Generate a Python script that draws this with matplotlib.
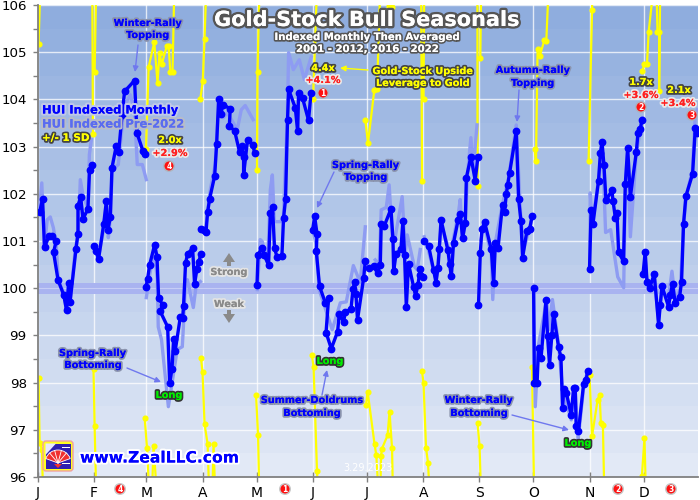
import matplotlib
matplotlib.use("Agg")
import matplotlib.pyplot as plt
import matplotlib.patheffects as pe
from matplotlib.patches import Circle, FancyBboxPatch, Polygon, Rectangle, Wedge
import numpy as np

n = float("nan")

# month starts, leap year day numbers
month_days = [0, 31, 60, 91, 121, 152, 182, 213, 244, 274, 305, 335]
month_labels = ["J", "F", "M", "A", "M", "J", "J", "A", "S", "O", "N", "D"]
y_ticks = [96, 97, 98, 99, 100, 101, 102, 103, 104, 105, 106]

# HUI indexed monthly, nan breaks the line between months
hui_x = [0.9, 2.5, 3.6, 6.2, 7.9, 10.1, 8.6, 11.1, 14.2, 15.8, 16.9, 17.7, 21.0, 22.1, 22.1, 23.6, 24.9, 27.6, 28.5, 29.9, n,
         30.7, 32.2, 33.5, 36.3, 37.8, 38.7, 40.0, 40.9, 43.3, 44.6, 46.5, 47.9, 53.4, 54.7, 58.1, 59.3, n,
         59.7, 60.6, 61.7, 64.5, 65.8, 66.7, 68.9, 67.6, 71.7, 72.8, 74.1, 75.0, 75.9, 78.7, 80.0, 80.5, 81.6, 82.7, 85.5, 86.6, 87.9, 88.8, 90.1, n,
         90.3, 91.6, 92.9, 93.8, 94.9, 97.7, 98.8, 99.9, 101.1, 102.3, 106.3, 105.8, 108.7, 111.5, 112.8, 113.7, 113.7, 115.9, 118.9, 119.8, n,
         121.1, 121.7, 123.9, 125.1, 127.5, 128.5, 129.7, 130.8, 132.2, 134.9, 135.8, 136.9, 138.0, 138.6, 142.3, 143.6, 144.1, 146.3, 149.6, 151.0, n,
         151.9, 153.0, 154.3, 153.9, 155.7, 158.9, 160.7, 159.3, 162.2, 165.7, 166.6, 169.0, 169.9, 173.1, 174.2, 175.1, 175.8, 176.7, 180.1, 181.0, n,
         182.8, 185.6, 187.8, 189.3, 189.8, 191.5, 195.2, 196.3, 196.7, 198.0, 200.7, 201.8, 202.7, 203.7, 204.9, 207.7, 208.8, 210.1, 211.4, 211.0, 212.9, n,
         213.6, 216.0, 218.8, 220.1, 221.2, 221.9, 222.9, 226.7, 227.6, 228.6, 229.8, 232.3, 233.5, 234.8, 236.3, 236.9, 239.4, 241.8, 243.3, n,
         243.6, 244.6, 245.5, 247.0, 250.7, 252.0, 252.9, 254.4, 256.9, 258.0, 259.0, 259.7, 260.8, 264.5, 265.8, 267.1, 268.0, 270.4, 271.9, 273.2, n,
         274.1, 274.5, 276.0, 276.8, 278.2, 280.9, 281.8, 282.9, 284.2, 285.1, 287.9, 289.2, 290.1, 290.7, 292.2, 294.9, 296.2, 297.1, 297.6, 298.9, 301.7, 303.2, 303.9, n,
         305.0, 305.9, 306.9, 310.0, 311.0, 311.9, 313.0, 314.1, 317.4, 318.0, 319.3, 320.2, 321.1, 323.8, 324.8, 326.1, 327.6, 330.9, 331.8, 333.1, 334.0, n,
         334.6, 335.8, 336.8, 338.2, 340.8, 343.2, 344.1, 345.1, 348.7, 349.7, 350.9, 352.4, 354.8, 355.9, 357.0, 358.3, 362.0, 363.5, 364.4]
hui_y = [101.61, 101.89, 100.87, 101.11, 101.11, 101.01, 100.76, 100.17, 99.86, 99.53, 100.10, 99.70, 100.83, 101.15, 101.75, 101.93, 101.47, 101.68, 102.51, 102.62, n,
         100.90, 100.78, 100.62, 101.35, 101.84, 101.24, 101.51, 102.55, 103.02, 102.88, 103.68, 104.17, 104.40, 103.29, 102.90, 102.85, n,
         100.03, 100.19, 100.49, 100.92, 100.67, 99.79, 99.65, 99.51, 99.18, 97.99, 98.29, 98.92, 98.68, 99.39, 99.37, 99.63, 100.53, 100.72, 100.85, 100.09, 100.41, 100.55, 100.72, n,
         101.25, 101.24, 101.19, 101.61, 101.89, 102.38, 103.06, 104.01, 103.69, 103.89, 103.80, 103.43, 103.34, 102.88, 103.02, 102.79, 102.40, 103.15, 103.03, 102.86, n,
         100.06, 100.71, 100.85, 100.70, 100.49, 101.59, 101.72, 100.85, 100.66, 100.69, 101.49, 101.88, 103.57, 104.21, 103.82, 103.32, 104.14, 104.03, 103.56, 104.14, n,
         101.24, 101.52, 101.15, 100.78, 100.04, 99.69, 99.79, 99.06, 98.72, 99.08, 99.46, 99.28, 99.49, 99.56, 99.98, 100.13, 99.88, 99.33, 100.22, 100.57, n,
         100.43, 100.46, 100.32, 100.50, 101.35, 101.32, 101.68, 101.04, 100.36, 100.73, 100.82, 101.42, 100.71, 99.60, 100.52, 100.03, 99.84, 100.07, 100.41, 100.29, 100.24, n,
         100.99, 100.90, 100.38, 100.12, 100.43, 100.82, 101.45, 100.80, 100.52, 100.25, 100.96, 101.44, 101.58, 101.06, 101.38, 102.34, 102.79, 102.28, 102.79, n,
         99.64, 100.75, 101.25, 101.40, 100.82, 100.11, 100.96, 100.85, 101.77, 101.61, 102.00, 102.18, 102.44, 103.32, 101.88, 101.42, 100.65, 101.22, 101.25, 101.52, n,
         100.00, 97.99, 97.99, 98.73, 98.52, 99.74, 98.98, 98.38, 99.01, 99.46, 98.75, 98.54, 97.46, 97.86, 97.78, 97.32, 97.89, 97.89, 97.09, 96.97, 97.96, 98.06, 98.25, n,
         100.41, 101.66, 101.36, 102.28, 102.86, 103.10, 102.60, 101.86, 102.07, 101.85, 101.49, 101.59, 100.76, 100.57, 102.21, 102.97, 101.94, 102.89, 103.29, 103.37, 103.57, n,
         100.30, 100.77, 100.14, 100.00, 100.30, 99.23, 99.64, 100.04, 99.61, 99.86, 100.09, 99.69, 99.81, 100.14, 101.36, 101.95, 102.42, 103.39, 103.29]

# HUI indexed pre-2022
pre_x = [0.7, 2.1, 3.5, 5.1, 6.8, 8.5, 10.1, 11.2, 14.5, 15.7, 17.3, 17.9, 20.6, 22.3, 23.4, 25.0, 27.8, 28.4, 29.5, n,
         31.1, 33.3, 36.1, 37.8, 38.9, 40.0, 41.1, 44.4, 46.6, 48.3, 51.0, 53.3, 54.9, 57.7, 59.9, n,
         59.9, 61.6, 64.3, 66.0, 66.5, 68.3, 72.1, 77.0, 79.8, 80.4, 81.5, 82.6, 85.9, 87.5, 89.8, n,
         92.5, 93.6, 95.3, 98.0, 98.6, 100.3, 102.5, 104.7, 110.2, 112.4, 114.6, 119.0, n,
         121.3, 122.9, 124.0, 126.2, 127.3, 128.5, 129.6, 130.7, 134.0, 135.7, 136.7, 137.9, 138.6, 141.2, 144.5, 147.3, 151.1, n,
         152.2, 153.9, 155.5, 162.7, 167.2, 170.5, 174.4, 178.2, 181.0, n,
         186.5, 188.7, 189.8, 192.6, 194.2, 195.9, 197.6, 201.4, 203.1, 204.2, 208.1, 209.7, 211.4, n,
         213.6, 215.8, 218.6, 220.2, 221.3, 223.0, 226.9, 228.5, 229.6, 232.4, 233.5, 234.7, 236.3, 237.5, 239.4, 240.7, 242.8, n,
         245.0, 246.8, 250.7, 251.5, 252.9, 256.8, 260.1, 264.5, 266.9, 268.6, 273.0, n,
         274.0, 275.0, 276.8, 281.3, 282.4, 284.5, 287.9, 290.1, 294.9, 297.1, 298.7, 301.9, 303.9, n,
         305.1, 305.4, 306.5, 309.9, 312.1, 313.9, 316.7, 320.6, 323.9, 324.8, 326.0, 327.6, 330.9, 333.1, 334.2, n,
         335.7, 336.8, 338.5, 340.8, 343.1, 345.2, 348.5, 350.6, 352.4, 355.2, 357.0, 358.7, 361.9, 363.5, 364.6]
pre_y = [101.62, 102.23, 100.88, 101.45, 101.51, 101.28, 100.92, 100.18, 99.86, 99.52, 100.07, 99.76, 100.82, 101.20, 102.30, 101.94, 101.68, 102.83, 103.15, n,
         100.90, 100.62, 101.20, 101.83, 101.07, 101.49, 102.51, 102.62, 103.46, 103.89, 104.10, 103.78, 102.62, 102.62, 102.30, n,
         99.80, 100.24, 100.82, 100.18, 99.18, 98.91, 97.49, 98.70, 98.76, 99.18, 100.12, 100.18, 99.59, 100.07, 100.14, n,
         101.20, 101.56, 102.09, 102.62, 103.08, 103.99, 103.61, 103.72, 103.36, 103.78, 103.87, 103.57, n,
         99.97, 101.03, 100.99, 100.65, 100.82, 102.09, 102.40, 101.41, 101.41, 101.49, 102.51, 103.63, 104.99, 104.63, 104.84, 104.42, 104.90, n,
         101.20, 100.92, 99.97, 99.12, 99.69, 99.71, 100.48, 100.12, 101.30, n,
         100.60, 100.50, 101.66, 101.71, 102.19, 101.09, 101.09, 101.94, 100.75, 101.13, 100.46, 100.39, 100.82, n,
         101.09, 100.82, 100.39, 100.18, 100.60, 101.35, 100.86, 100.39, 101.03, 101.56, 101.88, 101.03, 101.35, 102.40, 103.19, 102.51, 103.46, n,
         101.03, 101.35, 100.71, 99.76, 100.96, 101.77, 102.30, 103.46, 101.56, 100.82, 101.45, n,
         99.99, 97.49, 98.80, 99.76, 99.12, 99.76, 98.80, 97.85, 97.21, 97.85, 96.79, 97.96, 98.23, n,
         100.39, 102.02, 101.35, 102.28, 103.04, 101.18, 101.24, 100.24, 100.01, 102.09, 102.93, 101.09, 102.89, 103.32, 103.61, n,
         100.71, 100.07, 99.97, 100.29, 99.33, 99.97, 99.76, 100.36, 99.76, 99.97, 101.35, 101.98, 102.51, 103.68, 103.78]

# +1 SD band, runs off the top of the chart most of the time
upper_x = [0.3, 1.3, n, 30.0, 30.4, n, 31.3, 32.2, n,
           59.7, 61.2, 64.3, 66.1, 67.2, 68.4, 71.3, 72.2, 73.2, 74.4, 75.4, n,
           89.8, 91.1, 92.1, 93.1, n, 121.1, 121.4, 122.5, n, 152.1, 153.3, 154.3, n,
           181.0, 182.5, 186.0, 187.5, 189.3, n, 192.0, 193.9, 195.8, 197.0, n, 211.9, 212.4, n,
           213.2, 213.6, n, 243.0, 243.1, n, 244.6, 245.1, n,
           274.6, 275.4, 276.3, 277.4, 280.0, 281.1, 282.4, n, 304.5, 306.4, 306.6, n,
           334.3, 335.4, 336.8, 337.7, 340.5, 342.0, 342.6, 343.5, 343.5, 344.1]
upper_y = [105.17, 106.4, n, 106.4, 103.27, n, 104.58, 106.4, n,
           102.94, 104.69, 105.21, 104.35, 104.98, 104.74, 105.14, 105.14, 104.58, 104.58, 106.4, n,
           104.01, 104.38, 105.28, 106.4, n, 102.51, 104.59, 106.4, n, 104.00, 105.28, 106.4, n,
           103.57, 103.08, 104.20, 104.22, 106.4, n, 106.4, 105.97, 105.96, 106.4, n, 106.4, 102.28, n,
           104.01, 106.4, n, 106.4, 102.17, n, 104.88, 106.4, n,
           102.95, 102.69, 105.07, 104.91, 105.25, 105.23, 106.4, n, 102.69, 105.90, 106.4, n,
           104.61, 104.76, 104.76, 105.43, 106.4, 106.4, 105.42, 105.42, 104.17, 106.4]

# -1 SD band, runs off the bottom
lower_x = [0.3, 0.9, 2.2, 2.8, n, 30.7, 31.3, 32.2, n,
           59.0, 60.3, 61.6, 63.0, 63.9, 65.8, n,
           90.1, 91.0, 92.1, 93.8, 94.7, 96.4, 97.1, 98.0, n, 120.6, 121.7, 122.4, n,
           151.5, 152.4, 154.3, 155.0, n,
           181.4, 182.3, 186.1, 187.1, 188.4, 189.3, 189.7, 190.2, 193.3, 194.4, 195.8, 196.3, n,
           212.4, 213.2, 214.6, 215.7, 216.6, n, 243.1, 244.2, 245.0, n, 273.2, 274.4, n,
           305.0, 306.4, 309.5, 310.6, 311.3, 312.4, 313.2, n, 334.0, 335.4, 336.2]
lower_y = [98.10, 96.73, 96.58, 95.6, n, 98.29, 97.09, 95.6, n,
           97.25, 96.61, 95.6, 95.6, 96.66, 95.6, n,
           98.53, 98.22, 97.12, 96.70, 95.6, 95.6, 96.70, 95.6, n, 97.73, 96.88, 95.6, n,
           98.58, 98.33, 96.12, 95.6, n,
           97.52, 97.81, 96.70, 96.46, 95.6, 95.6, 96.44, 96.60, 96.88, 97.38, 96.61, 95.6, n,
           98.24, 97.99, 96.61, 96.30, 95.6, n, 97.14, 96.66, 95.6, n, 98.33, 95.6, n,
           98.17, 96.86, 97.64, 97.73, 97.14, 97.11, 95.6, n, 96.03, 96.83, 95.6]

W, H = 700, 500
fig = plt.figure(figsize=(7, 5), dpi=100)
ax = fig.add_axes([38 / W, 1 - 477 / H, 660 / W, 472 / H])

# background gradient
top_col = np.array([0x8f, 0xad, 0xde]) / 255
bot_col = np.array([0xe2, 0xe9, 0xf6]) / 255
steps = np.linspace(0, 1, 20)[:, None, None]
grad = top_col[None, None, :] * (1 - steps) + bot_col[None, None, :] * steps
ax.imshow(grad, extent=[0, 365, 96, 106], aspect="auto", zorder=0, interpolation="nearest")

ax.set_xlim(0, 365)
ax.set_ylim(96, 106)
ax.set_xticks(month_days)
ax.set_xticklabels(month_labels)
ax.set_yticks(y_ticks)
ax.set_yticks(np.arange(96.5, 106, 1), minor=True)
ax.tick_params(axis="y", which="both", direction="out", length=3.6, width=1, color="#808080", labelsize=9.6, pad=4.5)
ax.tick_params(axis="x", direction="inout", length=7, width=1, color="#808080", labelsize=10, pad=3)
for s in ["top", "right"]:
    ax.spines[s].set_visible(False)
for s in ["left", "bottom"]:
    ax.spines[s].set_color("#808080")
    ax.spines[s].set_linewidth(1.3)
ax.grid(color="white", linewidth=1, alpha=0.75, zorder=1)
ax.set_axisbelow(True)

# band around 100
ax.axhspan(99.88, 100.12, color="#a9b3f0", zorder=1.5, lw=0)
ax.axhline(100, color="white", lw=0.8, alpha=0.35, zorder=1.6)

ax.plot(upper_x, upper_y, color="#ffff00", lw=1.6, marker="o", ms=3.4, zorder=2)
ax.plot(lower_x, lower_y, color="#ffff00", lw=1.6, marker="o", ms=3.4, zorder=2)
ax.plot(pre_x, pre_y, color="#8e9cf2", lw=2.4, zorder=3, solid_joinstyle="round")
ax.plot(hui_x, hui_y, color="#0000ff", lw=2.4, marker="o", ms=4.6, zorder=4)


def label(px, py, txt, color="#0000ff", edge="#8a93ad", size=7, lw=2.6, ha="center"):
    effects = [pe.withStroke(linewidth=lw, foreground=edge), pe.Normal()]
    fig.text(px / W, 1 - py / H, txt, color=color, fontsize=size, fontweight="bold", ha=ha, va="center",
             path_effects=effects, zorder=10)


def arrow(x0, y0, x1, y1, color="#6f78ee"):
    ax.annotate("", xy=(x1, H - y1), xytext=(x0, H - y0), xycoords="figure pixels", textcoords="figure pixels",
                arrowprops=dict(arrowstyle="-|>", color=color, lw=1, mutation_scale=8, shrinkA=0, shrinkB=0), zorder=9)


def badge(px, py, num):
    fig.add_artist(Circle((px, H - py), 6, transform=None, facecolor="#b0b0b0", edgecolor="none", alpha=0.7, zorder=10))
    fig.add_artist(Circle((px, H - py), 4.5, transform=None, facecolor="#ff1010", edgecolor="none", zorder=11))
    fig.text(px / W, 1 - (py + 0.3) / H, num, color="white", fontsize=5.5, fontweight="bold", ha="center", va="center", zorder=12)


# titles
label(367, 20, "Gold-Stock Bull Seasonals", color="white", edge="#555555", size=15, lw=3.5)
label(367, 37, "Indexed Monthly Then Averaged", color="white", edge="#555555", size=7.3, lw=2.4)
label(367, 49, "2001 - 2012, 2016 - 2022", color="white", edge="#555555", size=7.3, lw=2.4)

# legend text
label(42, 110, "HUI Indexed Monthly", size=8.3, ha="left", edge="#c0c8e8", lw=3)
label(42, 124, "HUI Indexed Pre-2022", color="#5a6cf0", size=8.3, ha="left", edge="#b8bcc8", lw=3)
label(42, 138, "+/- 1 SD", color="#ffff00", edge="#444444", size=7.5, ha="left")

# notes
label(148, 23, "Winter-Rally")
label(148, 35, "Topping")
arrow(138, 45, 135, 72)
label(366, 165, "Spring-Rally")
label(366, 177, "Topping")
arrow(334, 172, 317, 208)
label(533, 70, "Autumn-Rally")
label(533, 83, "Topping")
arrow(519, 90, 517, 122)
label(93, 353, "Spring-Rally")
label(93, 365, "Bottoming")
arrow(127, 368, 161, 382)
label(312, 400, "Summer-Doldrums")
label(312, 413, "Bottoming")
arrow(322, 395, 327, 370)
label(479, 400, "Winter-Rally")
label(479, 413, "Bottoming")
arrow(512, 415, 569, 430)

for px, py in [(169, 395), (330, 361), (578, 443)]:
    label(px, py, "Long", color="#00ee00", edge="#333333", size=7)

label(423, 71, "Gold-Stock Upside", color="#ffff00", edge="#444444")
label(423, 83, "Leverage to Gold", color="#ffff00", edge="#444444")
arrow(368, 70, 340, 68, color="#ffff00")

for px, py, txt in [(170, 140, "2.0x"), (323, 68, "4.4x"), (641, 82, "1.7x"), (679, 90, "2.1x")]:
    label(px, py, txt, color="#ffff00", edge="#444444")
for px, py, txt in [(170, 153, "+2.9%"), (323, 80, "+4.1%"), (641, 95, "+3.6%"), (678, 103, "+3.4%")]:
    label(px, py, txt, color="#ff2020", edge="#e8e8e8")

for px, py, num in [(169, 166, "4"), (323, 93, "1"), (641, 107, "2"), (692, 115, "3"),
                    (120, 489, "4"), (285, 489, "1"), (618, 489, "2"), (671, 489, "3")]:
    badge(px, py, num)

# strong / weak arrows
label(229, 272, "Strong", color="#8a8a8a", edge="#e4e4e4")
label(229, 304, "Weak", color="#8a8a8a", edge="#e4e4e4")
fig.add_artist(Polygon([(229, H - 253), (223, H - 262), (235, H - 262)], transform=None, facecolor="#8a8a8a", edgecolor="none", zorder=9))
fig.add_artist(Rectangle((227, H - 266), 4, 5, transform=None, facecolor="#8a8a8a", edgecolor="none", zorder=9))
fig.add_artist(Polygon([(229, H - 323), (223, H - 314), (235, H - 314)], transform=None, facecolor="#8a8a8a", edgecolor="none", zorder=9))
fig.add_artist(Rectangle((227, H - 315), 4, 5, transform=None, facecolor="#8a8a8a", edgecolor="none", zorder=9))

# footer
label(80, 458, "www.ZealLLC.com", edge="white", size=11.2, lw=3, ha="left")
fig.text(368 / W, 1 - 468 / H, "3.29.2023", color="white", fontsize=7, ha="center", va="center", zorder=10)

# logo
logo = fig.add_axes([42 / W, 1 - 472 / H, 32 / W, 32 / H], zorder=12)
logo.set_xlim(0, 32)
logo.set_ylim(0, 32)
logo.axis("off")
logo.add_patch(FancyBboxPatch((1, 1), 30, 30, boxstyle="round,pad=0,rounding_size=3", facecolor="#ffff20", edgecolor="#f0a0a0", lw=1))
logo.add_patch(Rectangle((3.5, 3.5), 25, 25, facecolor="#3020b0", edgecolor="none"))
logo.add_patch(Polygon([(3.5, 28.5), (14, 28.5), (3.5, 17)], facecolor="#e8e8ff", edgecolor="none"))
for yy in [8, 13, 24]:
    logo.add_patch(Rectangle((20, yy), 8, 1.4, facecolor="white", edgecolor="none"))
logo.add_patch(Wedge((16, 9), 13, 20, 160, facecolor="#f03030", edgecolor="white", lw=0.6))
for ang in [50, 75, 105, 130]:
    logo.plot([16, 16 + 13 * np.cos(np.radians(ang))], [9, 9 + 13 * np.sin(np.radians(ang))], color="white", lw=0.6)
logo.add_patch(Polygon([(12, 8), (20, 8), (16, 4)], facecolor="#f03030", edgecolor="none"))

fig.savefig("out.png", dpi=100)
